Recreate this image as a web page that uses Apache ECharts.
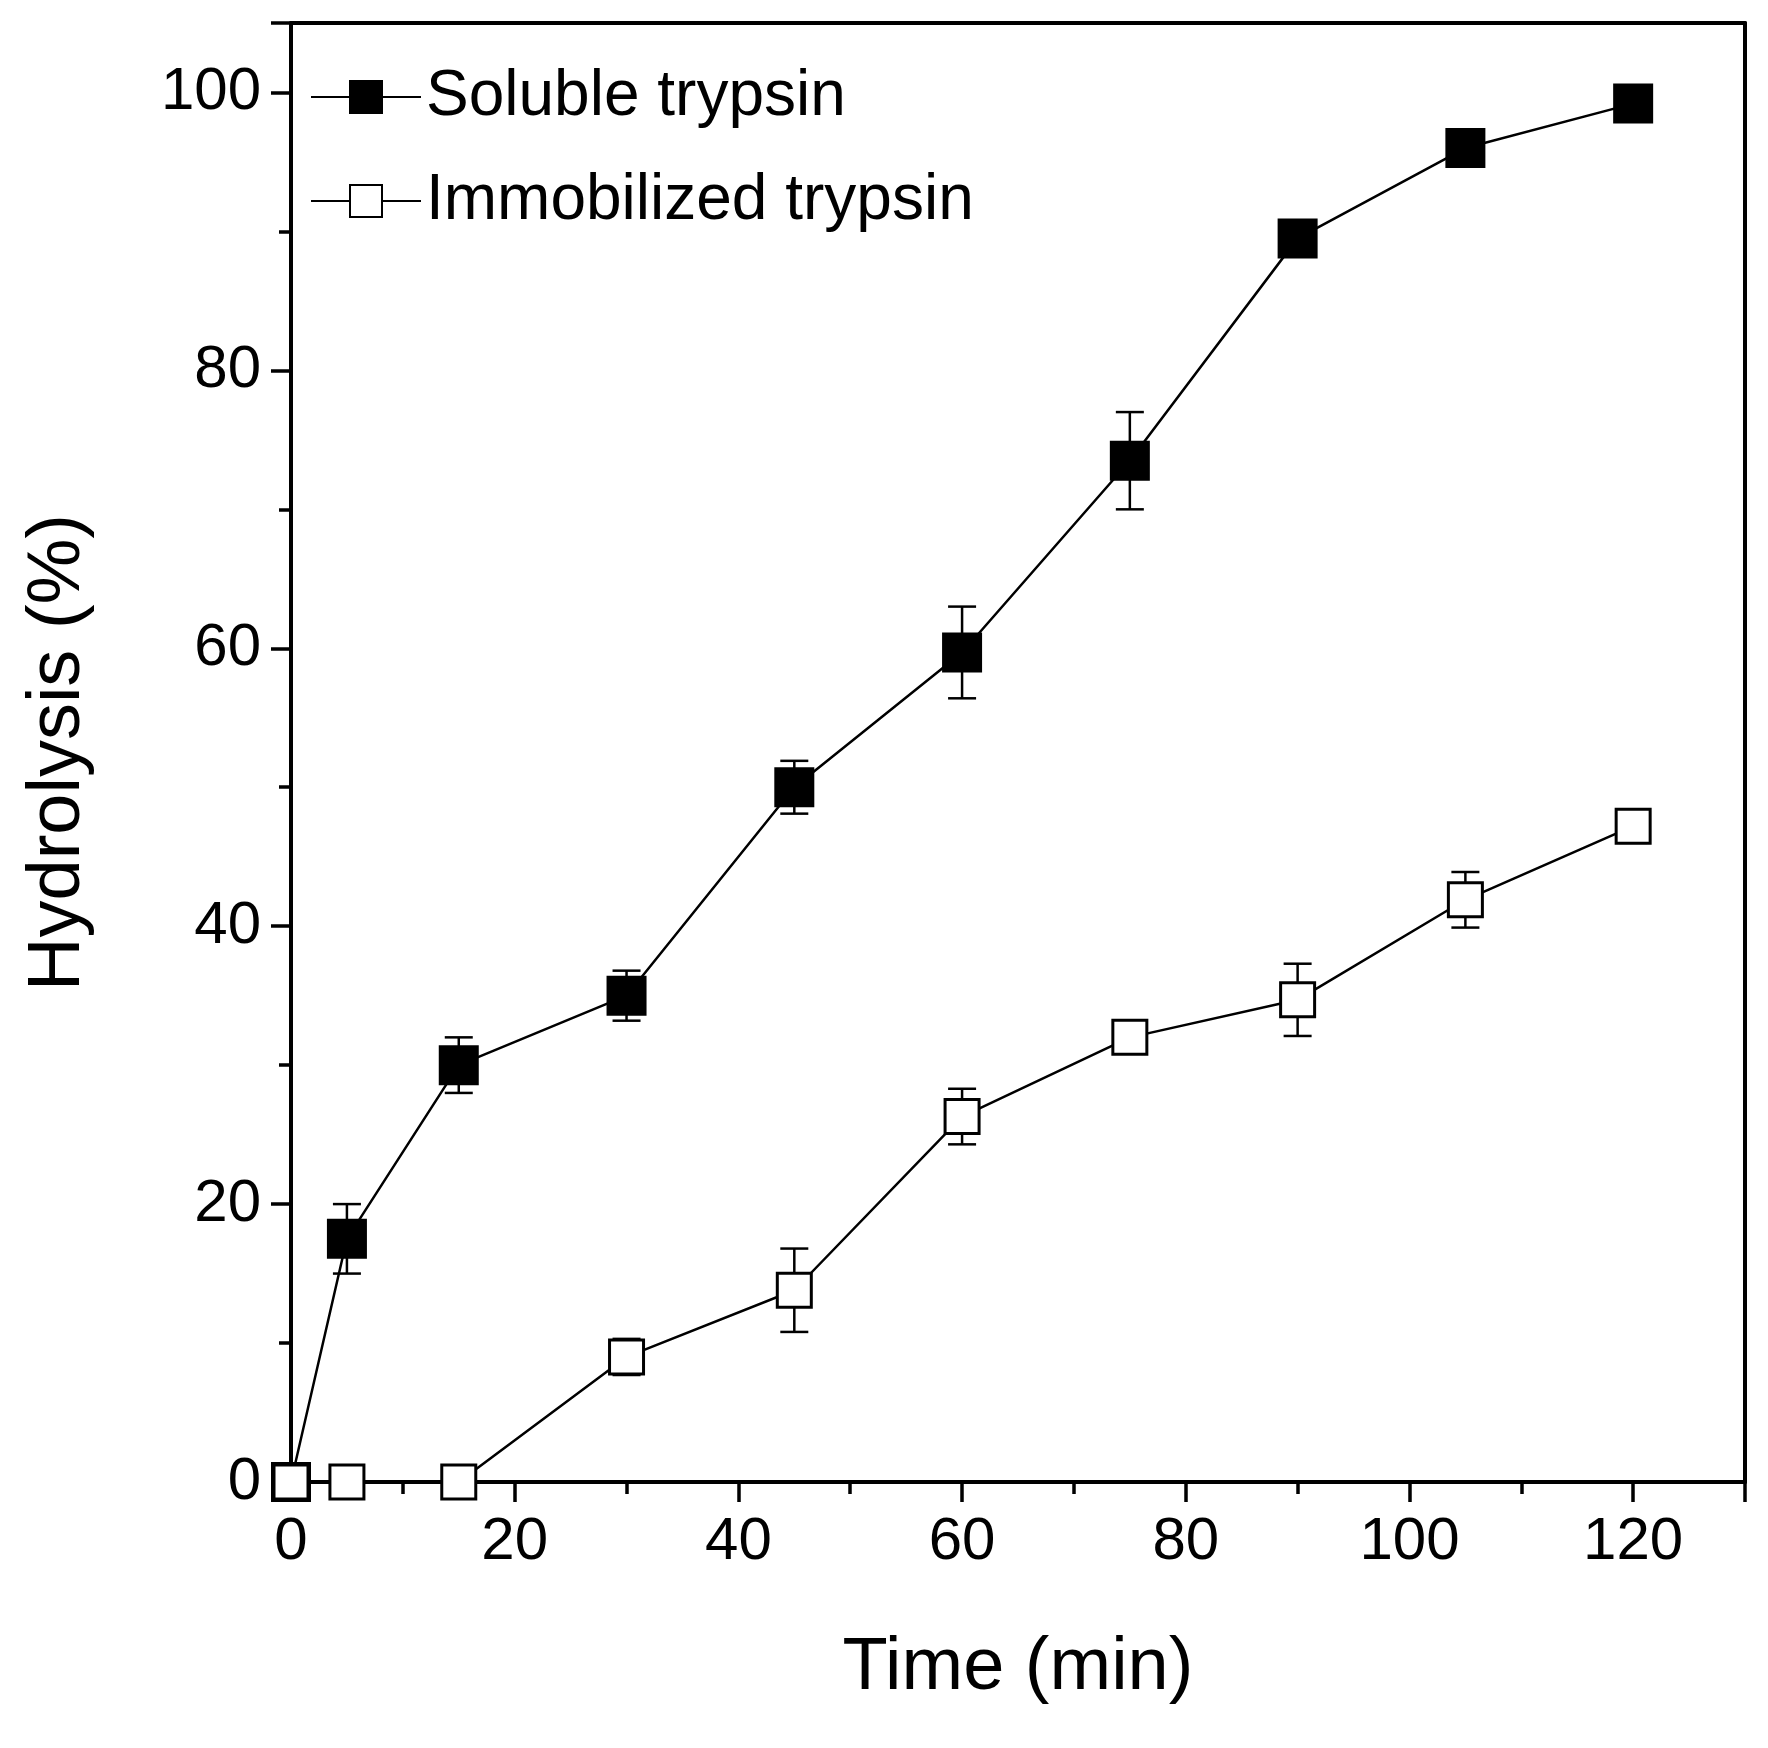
<!DOCTYPE html>
<html><head><meta charset="utf-8">
<script src="https://cdn.jsdelivr.net/npm/echarts@6/dist/echarts.min.js"></script>
<style>html,body{margin:0;padding:0;background:#fff}#c{width:1768px;height:1748px}</style>
</head><body><div id="c"></div>
<script>
const times = [0, 5, 15, 30, 45, 60, 75, 90, 105, 120];
const solubleValues = [0, 17.5, 30, 35, 50, 59.7, 73.5, 89.5, 96, 99.2];
const solubleErrors = [0, 2.5, 2, 1.8, 1.9, 3.3, 3.5, 0.8, 0.6, 1];
const immobValues = [0, 0, 0, 9, 13.8, 26.3, 32, 34.7, 41.9, 47.2];
const immobErrors = [0, 0, 0, 1.3, 3, 2, 0.5, 2.6, 2, 1.2];
const seriesNames = ['Soluble trypsin', 'Immobilized trypsin'];

const chart = echarts.init(document.getElementById('c'));
const font = 'Liberation Sans, Arial, sans-serif';
function errSeries(vals, errs) {
  return {
    type: 'custom', silent: true, z: 1,
    data: times.map((t, i) => [t, vals[i] - errs[i], vals[i] + errs[i]]),
    renderItem: function (params, api) {
      const lo = api.coord([api.value(0), api.value(1)]);
      const hi = api.coord([api.value(0), api.value(2)]);
      const w = 14;
      const st = {stroke: '#000', lineWidth: 2.5};
      return {type: 'group', children: [
        {type: 'line', shape: {x1: lo[0], y1: lo[1], x2: hi[0], y2: hi[1]}, style: st},
        {type: 'line', shape: {x1: lo[0]-w, y1: lo[1], x2: lo[0]+w, y2: lo[1]}, style: st},
        {type: 'line', shape: {x1: hi[0]-w, y1: hi[1], x2: hi[0]+w, y2: hi[1]}, style: st}
      ]};
    }
  };
}
const axisCommon = {
  axisLine: {show: true, onZero: false, lineStyle: {color: '#000', width: 4}},
  splitLine: {show: false},
};
chart.setOption({
  animation: false,
  backgroundColor: '#fff',
  grid: {left: 291, right: 23, top: 23, bottom: 266},
  legend: {
    left: 305, top: 60, orient: 'vertical', itemGap: 40, itemWidth: 110, itemHeight: 40,
    data: seriesNames,
    textStyle: {fontFamily: font, fontSize: 64, color: '#000'}
  },
  xAxis: [{
    ...axisCommon, type: 'value', min: 0, max: 130, interval: 20,
    name: 'Time (min)', nameLocation: 'middle', nameGap: 150,
    nameTextStyle: {fontFamily: font, fontSize: 74, color: '#000'},
    axisTick: {show: true, length: 20, lineStyle: {width: 3.5, color: '#000'}},
    minorTick: {show: true, splitNumber: 2, length: 12, lineStyle: {width: 3.5, color: '#000'}},
    axisLabel: {fontFamily: font, fontSize: 60, color: '#000', margin: 30,
      formatter: v => v > 120 ? '' : v}
  }, {
    ...axisCommon, type: 'value', position: 'top', min: 0, max: 130,
    axisTick: {show: false}, axisLabel: {show: false}
  }],
  yAxis: [{
    ...axisCommon, type: 'value', min: 0, max: 105, interval: 20,
    name: 'Hydrolysis (%)', nameLocation: 'middle', nameGap: 195,
    nameTextStyle: {fontFamily: font, fontSize: 74, color: '#000'},
    axisTick: {show: true, length: 20, lineStyle: {width: 3.5, color: '#000'}},
    minorTick: {show: true, splitNumber: 2, length: 12, lineStyle: {width: 3.5, color: '#000'}},
    axisLabel: {fontFamily: font, fontSize: 60, color: '#000', margin: 30,
      formatter: v => v > 100 ? '' : v}
  }, {
    ...axisCommon, type: 'value', position: 'right', min: 0, max: 105,
    axisTick: {show: false}, axisLabel: {show: false}
  }],
  series: [
    errSeries(solubleValues, solubleErrors),
    errSeries(immobValues, immobErrors),
    {
      name: seriesNames[0], type: 'line', z: 3,
      data: times.map((t, i) => [t, solubleValues[i]]),
      symbol: 'rect', symbolSize: 38,
      lineStyle: {color: '#000', width: 2.5},
      itemStyle: {color: '#000', borderColor: '#000', borderWidth: 2}
    },
    {
      name: seriesNames[1], type: 'line', z: 4,
      data: times.map((t, i) => [t, immobValues[i]]),
      symbol: 'rect', symbolSize: 34,
      lineStyle: {color: '#000', width: 2.5},
      itemStyle: {color: '#fff', borderColor: '#000', borderWidth: 3}
    }
  ]
});
</script></body></html>
